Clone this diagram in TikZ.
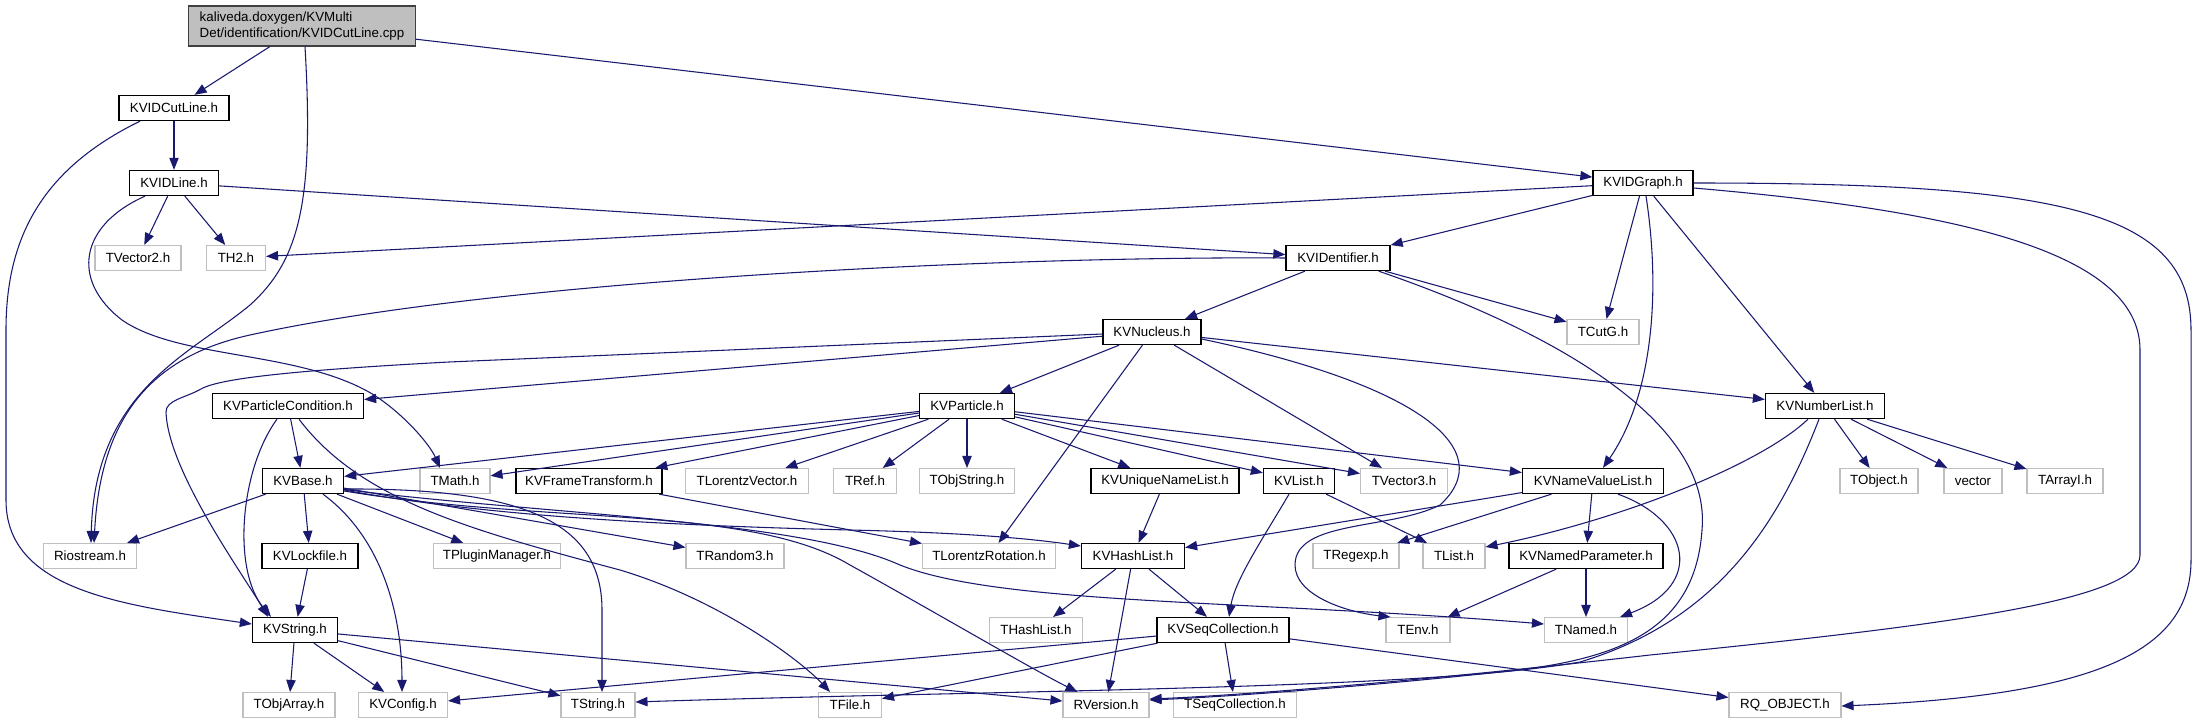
\documentclass[tikz,border=0pt]{standalone}
\usepackage{fontspec}
\setmainfont{Liberation Sans}
\usetikzlibrary{arrows.meta,calc}
\definecolor{edgec}{HTML}{191970}
\definecolor{extc}{HTML}{BFBFBF}
\definecolor{rootc}{HTML}{BFBFBF}
\begin{document}
\begin{tikzpicture}[x=0.75pt,y=-0.75pt,
  box/.style={rectangle,fill=white,minimum height=18.75pt,inner sep=0pt,font=\fontsize{10pt}{11.5pt}\selectfont},
  kv/.style={box,draw=black,line width=1pt},
  ext/.style={box,draw=extc,line width=0.8pt},
  rootbox/.style={box,draw=black!75,line width=1pt,fill=rootc,align=left,minimum height=30pt},
  wd/.style={minimum width={#1*0.75pt}},
  inc/.style={draw=edgec,line width=0.8pt,-{Triangle[length=9pt,width=7pt]}}]
\fill[white] (0,0) rectangle (2197,724);
\useasboundingbox (0,0) rectangle (2197,724);
% ---------- nodes ----------
\node[rootbox,wd=227] (root) at (302,26) {kaliveda.doxygen/KVMulti\\Det/identification/KVIDCutLine.cpp};
\node[kv,wd=110] (cutline) at (174,108) {KVIDCutLine.h};
\node[kv,wd=89] (idline) at (174,183) {KVIDLine.h};
\node[kv,wd=100] (idgraph) at (1643,183) {KVIDGraph.h};
\node[ext,wd=86] (tvec2) at (138,258) {TVector2.h};
\node[ext,wd=59] (th2) at (236,258) {TH2.h};
\node[kv,wd=104] (ident) at (1338,258) {KVIDentifier.h};
\node[ext,wd=72] (tcutg) at (1603,332) {TCutG.h};
\node[kv,wd=98] (nucleus) at (1152,332) {KVNucleus.h};
\node[kv,wd=151] (pcond) at (288,406) {KVParticleCondition.h};
\node[kv,wd=95] (particle) at (967,406) {KVParticle.h};
\node[kv,wd=119] (numlist) at (1825,406) {KVNumberList.h};
% row y=481
\node[kv,wd=81] (kvbase) at (303,481) {KVBase.h};
\node[ext,wd=70] (tmath) at (455,481) {TMath.h};
\node[kv,wd=146] (frame) at (589,481) {KVFrameTransform.h};
\node[ext,wd=123] (tlv) at (747,481) {TLorentzVector.h};
\node[ext,wd=63] (tref) at (865,481) {TRef.h};
\node[ext,wd=95] (tobjstr) at (967,481) {TObjString.h};
\node[kv,wd=148] (uniq) at (1165,481) {KVUniqueNameList.h};
\node[kv,wd=71] (kvlist) at (1299,481) {KVList.h};
\node[ext,wd=87] (tvec3) at (1404,481) {TVector3.h};
\node[kv,wd=141] (nvl) at (1593,481) {KVNameValueList.h};
\node[ext,wd=78] (tobject) at (1879,481) {TObject.h};
\node[ext,wd=58] (vector) at (1973,481) {vector};
\node[ext,wd=76] (tarray) at (2065,481) {TArrayI.h};
% row y=556
\node[ext,wd=93] (rio) at (90,556) {Riostream.h};
\node[kv,wd=96] (lockfile) at (310,556) {KVLockfile.h};
\node[ext,wd=127] (plugin) at (497,556) {TPluginManager.h};
\node[ext,wd=98] (trandom) at (735,556) {TRandom3.h};
\node[ext,wd=133] (tlrot) at (989,556) {TLorentzRotation.h};
\node[kv,wd=103] (hashlist) at (1133,556) {KVHashList.h};
\node[ext,wd=86] (tregexp) at (1356,556) {TRegexp.h};
\node[ext,wd=62] (tlist) at (1454,556) {TList.h};
\node[kv,wd=154] (namedpar) at (1586,556) {KVNamedParameter.h};
% row y=630
\node[kv,wd=85] (kvstring) at (295,630) {KVString.h};
\node[ext,wd=93] (thashlist) at (1036,630) {THashList.h};
\node[kv,wd=132] (seqcoll) at (1223,630) {KVSeqCollection.h};
\node[ext,wd=64] (tenv) at (1418,630) {TEnv.h};
\node[ext,wd=83] (tnamed) at (1586,630) {TNamed.h};
% row y=705
\node[ext,wd=92] (tobjarr) at (289,705) {TObjArray.h};
\node[ext,wd=89] (kvconfig) at (403,705) {KVConfig.h};
\node[ext,wd=74] (tstring) at (598,705) {TString.h};
\node[ext,wd=63] (tfile) at (850,705) {TFile.h};
\node[ext,wd=86] (rversion) at (1106,705) {RVersion.h};
\node[ext,wd=123] (tseqcoll) at (1235,705) {TSeqCollection.h};
\node[ext,wd=112] (rqobj) at (1785,705) {RQ\_OBJECT.h};
% ---------- edges ----------
% root
\draw[inc] (root) -- (cutline);
\draw[inc] (root) -- (idgraph);
\draw[inc] ($(root.south)+(3,0)$) .. controls (314,200) and (300,260) .. (250,305) .. controls (190,355) and (95,390) .. ($(rio.north)+(1,0)$);
% KVIDCutLine
\draw[inc] (cutline) -- (idline);
\draw[inc] ($(cutline.south)+(-34,0)$) .. controls (40,170) and (6,240) .. (6,330) -- (6,500) .. controls (6,590) and (120,605) .. ($(kvstring.west)+(0,-6)$);
% KVIDLine
\draw[inc] (idline) -- (tvec2);
\draw[inc] (idline) -- (th2);
\draw[inc] (idline) -- (ident);
\draw[inc] ($(idline.south)+(-29,0)$) .. controls (80,225) and (70,280) .. (122,320) .. controls (180,360) and (300,350) .. (374,395) .. controls (405,415) and (430,445) .. ($(tmath.north)+(-15,0)$);
% KVIDGraph
\draw[inc] (idgraph) -- (th2);
\draw[inc] (idgraph) -- (ident);
\draw[inc] (idgraph) -- (tcutg);
\draw[inc] (idgraph) -- (numlist);
\draw[inc] ($(idgraph.south)+(3,0)$) .. controls (1662,300) and (1650,400) .. ($(nvl.north)+(10,0)$);
\draw[inc] ($(idgraph.east)+(0,5)$) .. controls (1950,210) and (2140,250) .. (2140,350) -- (2140,555) .. controls (2140,600) and (1950,625) .. (1650,655) .. controls (1450,678) and (1250,695) .. ($(rversion.east)+(0,-6)$);
\draw[inc] (idgraph.east) .. controls (2060,183) and (2191,210) .. (2191,330) -- (2191,560) .. controls (2191,650) and (2100,695) .. ($(rqobj.east)+(0,1)$);
% KVIDentifier
\draw[inc] (ident) -- (nucleus);
\draw[inc] (ident) -- (tcutg);
\draw[inc] (ident.west) .. controls (1000,256) and (500,280) .. (250,335) .. controls (140,359) and (100,430) .. ($(rio.north)+(4,0)$);
\draw[inc] ($(ident.south east)+(-12,0)$) .. controls (1550,330) and (1712,420) .. (1702,530) .. controls (1695,630) and (1620,660) .. (1500,672) .. controls (1350,688) and (1220,697) .. ($(rversion.east)+(0,-5)$);
% KVNucleus
\draw[inc] (nucleus) -- (pcond);
\draw[inc] (nucleus) -- (particle);
\draw[inc] (nucleus) -- (tlrot);
\draw[inc] (nucleus) -- (tvec3);
\draw[inc] (nucleus) -- (numlist);
\draw[inc] ($(nucleus.west)+(0,2)$) -- (449,362) .. controls (300,370) and (220,378) .. (201,389) .. controls (185,398) and (166,400) .. (166,412) .. controls (168,470) and (240,570) .. ($(kvstring.north)+(-27,0)$);
\draw[inc] ($(nucleus.east)+(0,7)$) .. controls (1420,385) and (1500,450) .. (1440,505) .. controls (1390,530) and (1295,520) .. (1295,565) .. controls (1295,595) and (1345,612) .. ($(tenv.north west)+(5,0)$);
% KVParticleCondition
\draw[inc] (pcond) -- (kvbase);
\draw[inc] ($(pcond.south)+(-11,0)$) .. controls (240,470) and (232,570) .. ($(kvstring.north)+(-24,0)$);
\draw[inc] ($(pcond.south)+(11,0)$) .. controls (360,500) and (470,530) .. (620,570) .. controls (720,600) and (800,660) .. ($(tfile.north)+(-20,0)$);
% KVParticle
\draw[inc] (particle) -- (kvbase);
\draw[inc] (particle) -- (tmath);
\draw[inc] (particle) -- (frame);
\draw[inc] (particle) -- (tlv);
\draw[inc] (particle) -- (tref);
\draw[inc] (particle) -- (tobjstr);
\draw[inc] (particle) -- (uniq);
\draw[inc] (particle) -- (kvlist);
\draw[inc] (particle) -- (tvec3);
\draw[inc] (particle) -- (nvl);
% KVNumberList
\draw[inc] (numlist) -- (tobject);
\draw[inc] (numlist) -- (vector);
\draw[inc] (numlist) -- (tarray);
\draw[inc] ($(numlist.south)+(-17,0)$) .. controls (1760,465) and (1620,520) .. ($(tlist.east)+(0,-9)$);
\draw[inc] ($(numlist.south)+(-6,0)$) .. controls (1780,520) and (1720,620) .. (1580,662) .. controls (1420,690) and (1000,690) .. ($(tstring.east)+(0,-3)$);
% KVBase
\draw[inc] (kvbase) -- (rio);
\draw[inc] (kvbase) -- (lockfile);
\draw[inc] (kvbase) -- (plugin);
\draw[inc] (kvbase) -- (trandom);
\draw[inc] ($(kvbase.south)+(20,0)$) .. controls (385,540) and (402,620) .. ($(kvconfig.north)+(-1,0)$);
\draw[inc] ($(kvbase.east)+(0,8)$) .. controls (520,488) and (602,520) .. (602,610) -- ($(tstring.north)+(4,0)$);
\draw[inc] ($(kvbase.east)+(0,9)$) .. controls (480,515) and (650,525) .. (850,530) .. controls (980,533) and (1040,540) .. ($(hashlist.west)+(0,-10)$);
\draw[inc] ($(kvbase.east)+(0,10)$) .. controls (550,525) and (750,505) .. (850,565) .. controls (940,615) and (1030,668) .. ($(rversion.north west)+(15,0)$);
\draw[inc] ($(kvbase.east)+(0,8.5)$) .. controls (550,515) and (800,520) .. (900,565) .. controls (1000,605) and (1250,600) .. ($(tnamed.west)+(0,-6)$);
% KVFrameTransform
\draw[inc] (frame) -- (tlrot);
% KVUniqueNameList, KVList
\draw[inc] (uniq) -- (hashlist);
\draw[inc] (kvlist) -- (tlist);
\draw[inc] ($(kvlist.south)+(-10,0)$) .. controls (1262,540) and (1235,580) .. ($(seqcoll.north)+(6,0)$);
% KVNameValueList
\draw[inc] (nvl) -- (hashlist);
\draw[inc] (nvl) -- (tregexp);
\draw[inc] (nvl) -- (namedpar);
\draw[inc] ($(nvl.south)+(25,0)$) .. controls (1690,520) and (1705,585) .. ($(tnamed.north east)+(-8,0)$);
% KVNamedParameter
\draw[inc] (namedpar) -- (tenv);
\draw[inc] (namedpar) -- (tnamed);
% KVHashList
\draw[inc] (hashlist) -- (thashlist);
\draw[inc] (hashlist) -- (seqcoll);
\draw[inc] (hashlist) -- (rversion);
% KVLockfile, KVString
\draw[inc] (lockfile) -- (kvstring);
\draw[inc] (kvstring) -- (tobjarr);
\draw[inc] (kvstring) -- (kvconfig);
\draw[inc] (kvstring) -- (tstring);
\draw[inc] (kvstring) -- (rversion);
% KVSeqCollection
\draw[inc] (seqcoll) -- (kvconfig);
\draw[inc] (seqcoll) -- (tfile);
\draw[inc] (seqcoll) -- (tseqcoll);
\draw[inc] (seqcoll) -- (rqobj);
\end{tikzpicture}
\end{document}
